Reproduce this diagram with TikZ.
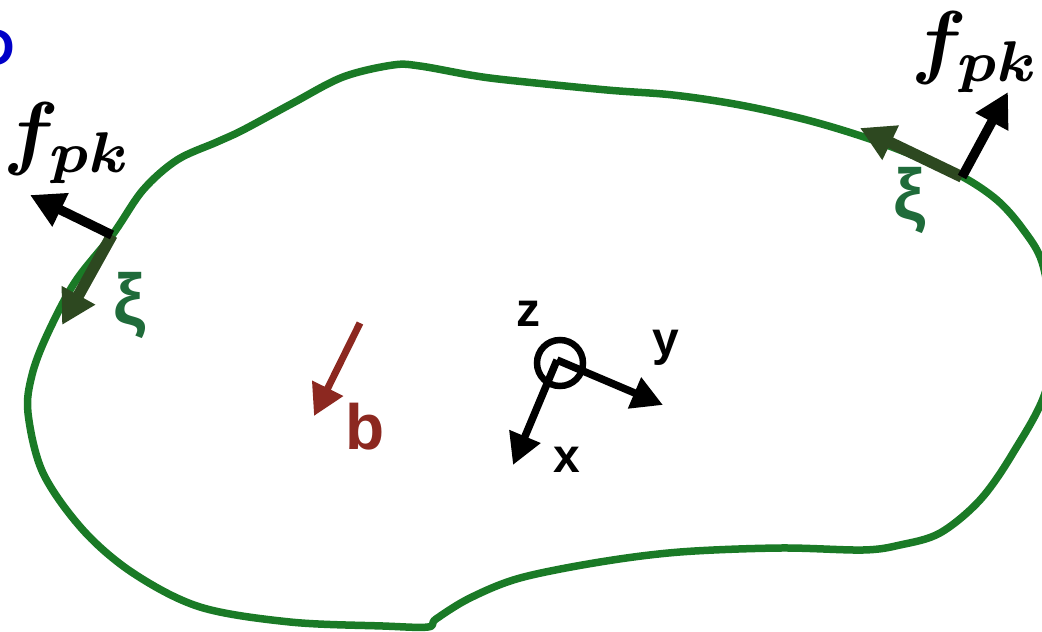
\documentclass[tikz,border=0pt]{standalone}
\usepackage{amsmath}
\usepackage{bm}
\usepackage{fontspec}
\setsansfont{Liberation Sans}
\usetikzlibrary{arrows.meta}
\definecolor{curvegreen}{RGB}{26,122,38}
\definecolor{xiarrow}{RGB}{45,72,32}
\definecolor{xilabel}{RGB}{31,107,58}
\definecolor{bbrown}{RGB}{140,40,32}
\definecolor{dblue}{RGB}{0,0,200}
\newcommand{\fpklabel}{$\bm{f}_{\bm{pk}}$}
\tikzset{
  fvec/.style={line width=9.5pt, -{Triangle[length=34pt,width=35pt]}},
  xivec/.style={xiarrow, line width=11.5pt, -{Triangle[length=34pt,width=36pt]}},
  axvec/.style={line width=7.5pt, -{Triangle[length=31pt,width=32pt]}},
  bvec/.style={bbrown, line width=7pt, -{Triangle[length=31pt,width=33pt]}},
  sflabel/.style={inner sep=0pt, font=\sffamily\bfseries\fontsize{48}{48}\selectfont},
  xilab/.style={inner sep=0pt, text=xilabel, font=\sffamily\bfseries\fontsize{72}{72}\selectfont},
  flabel/.style={inner sep=0pt, scale=8.2},
}
\begin{document}
\begin{tikzpicture}[x=1pt,y=-1pt]
\useasboundingbox (0,0) rectangle (1042,632);
\clip (0,0) rectangle (1042,632);
% body outline
\draw[curvegreen, line width=7.5pt, line join=round] plot[smooth cycle, tension=0.55] coordinates {
 (113,234) (143,190) (177,160) (217,142) (243,130) (293,103) (343,77) (393,65) (420,66)
 (470,75) (507,80) (607,90) (673,95) (740,105) (807,120) (867,138) (920,158) (963,177)
 (997,200) (1022,228) (1042,262) (1051,320) (1046,390) (1013,453) (980,500) (940,533)
 (900,545) (863,550) (780,548) (680,552) (600,562) (520,578) (470,598) (436,619)
 (428,627) (383,626) (290,622) (200,607) (133,573) (83,530) (43,473) (28,413) (32,375)
 (47,335) (75,282)
};
% named points
\coordinate (lp) at (112,235);
\coordinate (lf) at (30,195);
\coordinate (lxi) at (62,325);
\coordinate (rp) at (962,177);
\coordinate (rf) at (1008,92);
\coordinate (rxi) at (860,128);
\coordinate (o) at (557,360);
\coordinate (xt) at (513,465);
\coordinate (yt) at (663,405);
\coordinate (bs) at (360,323);
\coordinate (bt) at (314,416);
% xi arrows
\draw[xivec] (lp) -- (lxi);
\draw[xivec] (rp) -- (rxi);
% force arrows
\draw[fvec] (lp) -- (lf);
\draw[fvec] (rp) -- (rf);
% axes
\node[draw, circle, line width=6.5pt, minimum size=46pt, inner sep=0pt] (zc) at (560,363) {};
\draw[axvec] (o) -- (xt);
\draw[axvec] (o) -- (yt);
% body force
\draw[bvec] (bs) -- (bt);
% labels
\node[flabel] (lfl) at (68,143) {\fpklabel};
\node[flabel] (rfl) at (976,52) {\fpklabel};
\node[xilab] (lxl) at (130,305) {ξ};
\node[xilab] (rxl) at (910,200) {ξ};
\node[sflabel] (zl) at (528,314) {z};
\node[sflabel] (xl) at (567,460) {x};
\node[sflabel] (yl) at (666,348) {y};
\node[inner sep=0pt, text=bbrown, font=\sffamily\bfseries\fontsize{64}{64}\selectfont] (bl) at (365,427) {b};
\node[inner sep=0pt, text=dblue, anchor=east, font=\sffamily\bfseries\fontsize{52}{52}\selectfont] (dl) at (15,48) {D};
\end{tikzpicture}
\end{document}
